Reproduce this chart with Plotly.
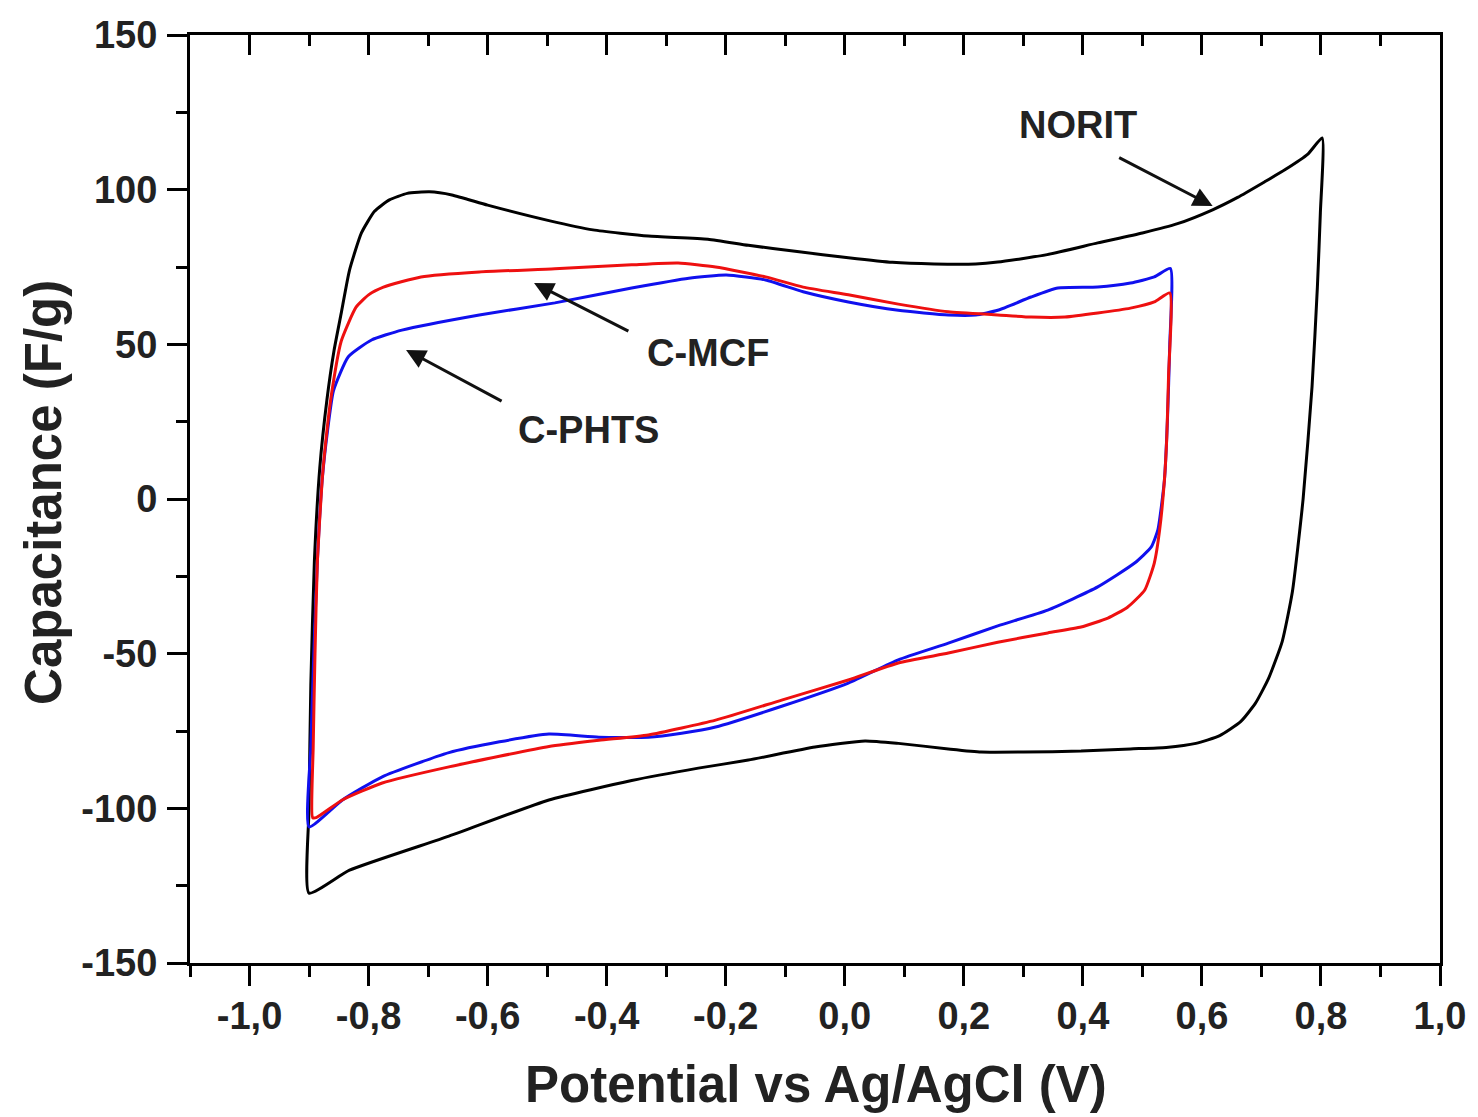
import plotly.graph_objects as go

# NORIT (black) closed CV loop
norit_x = [-0.900, -0.900, -0.897, -0.891, -0.882, -0.870, -0.858, -0.846, -0.832, -0.812, -0.790, -0.765,
           -0.735, -0.698, -0.660, -0.600, -0.497, -0.423, -0.330, -0.230, -0.162, -0.080, 0.006, 0.080,
           0.150, 0.220, 0.257, 0.340, 0.425, 0.500, 0.559, 0.618, 0.660, 0.705, 0.740, 0.778, 0.802,
           0.799, 0.794, 0.785, 0.770, 0.752, 0.735, 0.712, 0.690, 0.665, 0.630, 0.590, 0.540, 0.480,
           0.397, 0.300, 0.229, 0.174, 0.090, 0.034, -0.050, -0.162, -0.246, -0.358, -0.497, -0.665,
           -0.832, -0.900]
norit_y = [-127.4, -100.0, -60.0, -20.0, 10.0, 32.0, 48.0, 60.0, 74.0, 86.0, 93.0, 96.7,
           98.8, 99.3, 98.3, 95.0, 90.0, 87.0, 85.0, 84.0, 82.0, 80.0, 78.0, 76.5,
           76.0, 76.0, 76.6, 79.0, 82.8, 86.0, 89.0, 93.5, 97.5, 102.5, 106.5, 111.5, 116.7,
           92.5, 68.5, 36.2, 0.0, -30.0, -46.0, -58.0, -66.0, -72.0, -76.5, -79.0, -80.3, -80.8,
           -81.5, -81.8, -81.8, -80.8, -79.0, -78.2, -80.2, -84.4, -87.0, -91.0, -97.3, -109.0,
           -120.0, -127.4]

# C-MCF (red)
mcf_x = [-0.894, -0.893, -0.890, -0.886, -0.878, -0.870, -0.863, -0.846, -0.821, -0.800, -0.775, -0.712,
         -0.614, -0.487, -0.358, -0.280, -0.217, -0.133, -0.070, 0.006, 0.090, 0.174, 0.257, 0.313,
         0.370, 0.425, 0.480, 0.520, 0.546,
         0.544, 0.541, 0.537, 0.529, 0.520, 0.504, 0.475, 0.442, 0.397, 0.341, 0.257, 0.174, 0.090,
         0.006, -0.106, -0.217, -0.330, -0.413, -0.497, -0.665, -0.777, -0.844, -0.888, -0.894]
mcf_y = [-103.0, -80.0, -50.0, -20.0, 6.0, 22.0, 33.0, 51.0, 62.0, 66.0, 68.5, 71.8,
         73.4, 74.4, 75.7, 76.3, 75.0, 71.8, 68.5, 66.0, 63.0, 60.5, 59.5, 58.8,
         58.8, 60.1, 61.7, 63.7, 66.6,
         40.0, 20.0, 6.0, -10.0, -20.7, -29.4, -35.0, -38.5, -41.4, -43.3, -46.3, -49.8, -53.0,
         -58.5, -65.0, -71.5, -76.3, -78.0, -80.0, -86.6, -91.8, -97.3, -103.0, -103.0]

# C-PHTS (blue)
phts_x = [-0.900, -0.897, -0.892, -0.886, -0.878, -0.869, -0.859, -0.834, -0.795, -0.744, -0.614, -0.487,
          -0.358, -0.262, -0.199, -0.133, -0.070, 0.006, 0.090, 0.174, 0.220, 0.257, 0.313, 0.358,
          0.425, 0.480, 0.520, 0.547,
          0.546, 0.542, 0.537, 0.526, 0.515, 0.487, 0.425, 0.341, 0.257, 0.174, 0.090, 0.006,
          -0.106, -0.217, -0.274, -0.330, -0.413, -0.497, -0.580, -0.665, -0.777, -0.844, -0.900]
phts_y = [-106.0, -80.0, -50.0, -20.0, 6.0, 22.0, 35.0, 46.0, 51.4, 54.6, 59.5, 63.4,
          68.2, 71.4, 72.4, 70.8, 67.0, 63.7, 61.0, 59.5, 59.5, 61.0, 65.3, 68.2,
          68.5, 69.8, 71.8, 74.5,
          50.0, 25.0, 6.0, -10.0, -15.5, -20.7, -28.4, -35.9, -41.0, -46.6, -52.0, -59.5,
          -67.0, -73.7, -75.7, -77.0, -77.0, -76.0, -78.5, -82.0, -89.8, -97.3, -106.0]

x_ticks = [-1.0, -0.8, -0.6, -0.4, -0.2, 0.0, 0.2, 0.4, 0.6, 0.8, 1.0]
x_ticktext = ["-1,0", "-0,8", "-0,6", "-0,4", "-0,2", "0,0", "0,2", "0,4", "0,6", "0,8", "1,0"]
y_ticks = [-150, -100, -50, 0, 50, 100, 150]
y_ticktext = ["-150", "-100", "-50", "0", "50", "100", "150"]

FONT = "Liberation Sans"

fig = go.Figure()
line_common = dict(width=3, shape="spline", smoothing=0.5)
fig.add_trace(go.Scatter(x=norit_x, y=norit_y, mode="lines", line=dict(color="#000000", **line_common),
                         showlegend=False, hoverinfo="skip"))
fig.add_trace(go.Scatter(x=phts_x, y=phts_y, mode="lines", line=dict(color="#1010ee", **line_common),
                         showlegend=False, hoverinfo="skip"))
fig.add_trace(go.Scatter(x=mcf_x, y=mcf_y, mode="lines", line=dict(color="#ee1010", **line_common),
                         showlegend=False, hoverinfo="skip"))
# dummy trace to activate the top axis
fig.add_trace(go.Scatter(x=[-1.1], y=[0], xaxis="x2", mode="markers", marker=dict(opacity=0),
                         showlegend=False, hoverinfo="skip"))

tickfont = dict(family=FONT, size=38, color="#222222", weight="bold")

fig.update_layout(
    width=1478, height=1117,
    margin=dict(l=190, r=35, t=35, b=154),
    paper_bgcolor="white", plot_bgcolor="white",
    showlegend=False,
    xaxis=dict(range=[-1.1, 1.0], tickvals=x_ticks, ticktext=x_ticktext, ticks="outside",
               ticklen=20, tickwidth=3, tickcolor="black", showline=True, linewidth=3,
               linecolor="black", mirror=True, showgrid=False, zeroline=False,
               tickfont=tickfont, ticklabelstandoff=-3,
               minor=dict(ticks="outside", ticklen=11, tickwidth=3, tickcolor="black",
                          tick0=-1.1, dtick=0.1, showgrid=False)),
    xaxis2=dict(range=[-1.1, 1.0], overlaying="x", side="top", anchor="y",
                tickvals=x_ticks, ticks="inside", ticklen=20, tickwidth=3, tickcolor="black",
                showticklabels=False, showgrid=False, zeroline=False, showline=False,
                minor=dict(ticks="inside", ticklen=11, tickwidth=3, tickcolor="black",
                           tick0=-1.1, dtick=0.1, showgrid=False)),
    yaxis=dict(range=[-150, 150], tickvals=y_ticks, ticktext=y_ticktext, ticks="outside", ticklen=20,
               tickwidth=3, tickcolor="black", showline=True, linewidth=3, linecolor="black",
               mirror=True, showgrid=False, zeroline=False, tickfont=tickfont, ticklabelstandoff=2,
               minor=dict(ticks="outside", ticklen=11, tickwidth=3, tickcolor="black",
                          tick0=-150, dtick=25, showgrid=False)),
)

labfont = dict(family=FONT, size=38, color="#222222", weight="bold")
titlefont = dict(family=FONT, size=51, color="#222222", weight="bold")

annotations = [
    dict(text="NORIT", x=0.391, y=120.9, xref="x", yref="y", showarrow=False, font=labfont),
    dict(text="C-MCF", x=-0.229, y=47.2, xref="x", yref="y", showarrow=False, font=labfont),
    dict(text="C-PHTS", x=-0.43, y=22.3, xref="x", yref="y", showarrow=False, font=labfont),
    dict(text="", x=0.618, y=94.7, ax=0.4585, ay=110.6, xref="x", yref="y", axref="x", ayref="y",
         showarrow=True, arrowhead=2, arrowsize=1.3, arrowwidth=3, arrowcolor="#111111"),
    dict(text="", x=-0.522, y=69.8, ax=-0.361, ay=54.0, xref="x", yref="y", axref="x", ayref="y",
         showarrow=True, arrowhead=2, arrowsize=1.3, arrowwidth=3, arrowcolor="#111111"),
    dict(text="", x=-0.737, y=48.2, ax=-0.574, ay=31.4, xref="x", yref="y", axref="x", ayref="y",
         showarrow=True, arrowhead=2, arrowsize=1.3, arrowwidth=3, arrowcolor="#111111"),
    dict(text="Potential vs Ag/AgCl (V)", x=0.501, y=-0.131, xref="paper", yref="paper",
         showarrow=False, font=titlefont, xanchor="center", yanchor="middle"),
    dict(text="Capacitance (F/g)", x=-0.1173, y=0.507, xref="paper", yref="paper", textangle=-90,
         showarrow=False, font=titlefont, xanchor="center", yanchor="middle"),
]
fig.update_layout(annotations=annotations)

fig.write_html("out.html")
